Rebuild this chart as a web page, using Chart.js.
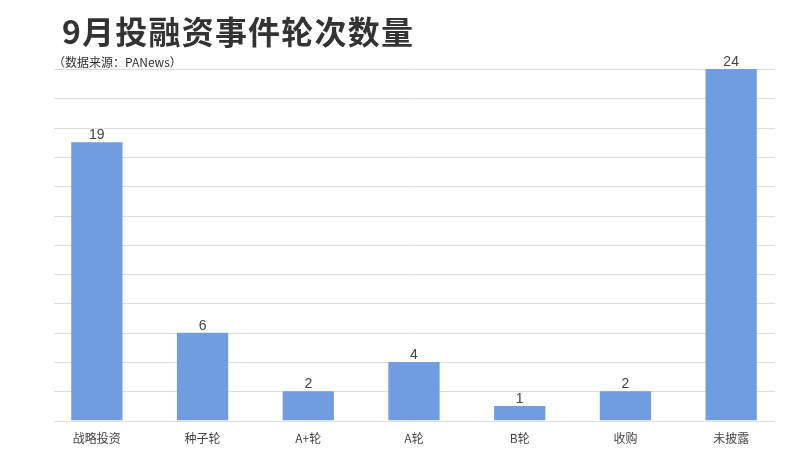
<!DOCTYPE html>
<html>
<head>
<meta charset="utf-8">
<script src="https://cdn.jsdelivr.net/npm/chart.js@4"></script>
<style>
  body { margin: 0; background: #fff; }
  #wrap { position: relative; width: 787px; height: 468px; }
  #title { position: absolute; left: 62px; top: 7px; font: bold 32px "Noto Sans CJK SC", sans-serif; color: #333; letter-spacing: 1.2px; }
  #sub { position: absolute; left: 53px; top: 53px; font: 12px "Noto Sans CJK SC", sans-serif; color: #333; }
</style>
</head>
<body>
<div id="wrap">
  <div id="title">9月投融资事件轮次数量</div>
  <div id="sub">（数据来源：PANews）</div>
  <canvas id="roundChart" width="787" height="468"></canvas>
</div>
<script>
const categories = ['战略投资', '种子轮', 'A+轮', 'A轮', 'B轮', '收购', '未披露'];
const counts = [19, 6, 2, 4, 1, 2, 24];

// horizontal grid, a bit shorter than the plot area like the original
const gridLines = {
    id: 'gridLines',
    beforeDatasetsDraw(chart) {
        const { ctx, chartArea, scales } = chart;
        ctx.save();
        ctx.strokeStyle = '#dedede';
        ctx.lineWidth = 1;
        scales.y.ticks.forEach(t => {
            const y = Math.round(scales.y.getPixelForValue(t.value)) + 0.5;
            ctx.beginPath();
            ctx.moveTo(chartArea.left + 10, y);
            ctx.lineTo(chartArea.right - 9, y);
            ctx.stroke();
        });
        ctx.restore();
    }
};

// value labels above bars
const barLabels = {
    id: 'barLabels',
    afterDatasetsDraw(chart) {
        const { ctx } = chart;
        ctx.save();
        ctx.font = '14px "Liberation Sans", Arial, sans-serif';
        ctx.fillStyle = '#444';
        ctx.textAlign = 'center';
        ctx.textBaseline = 'bottom';
        chart.getDatasetMeta(0).data.forEach((bar, i) => {
            ctx.fillText(counts[i], bar.x, bar.y);
        });
        ctx.restore();
    }
};

const ctx = document.getElementById('roundChart').getContext('2d');
const roundChart = new Chart(ctx, {
    type: 'bar',
    data: {
        labels: categories,
        datasets: [{
            data: counts,
            backgroundColor: 'rgb(112, 157, 226)',
            categoryPercentage: 1,
            barPercentage: 0.485
        }]
    },
    options: {
        responsive: false,
        animation: false,
        layout: { padding: { top: 69, left: 44, right: 3, bottom: 11 } },
        plugins: { legend: { display: false }, tooltip: { enabled: false } },
        scales: {
            x: {
                grid: { display: false, drawTicks: false },
                border: { display: false },
                ticks: {
                    color: '#444',
                    padding: 11,
                    font: { size: 12, family: '"Noto Sans CJK SC", sans-serif' }
                }
            },
            y: {
                display: false,
                min: 0,
                max: 24,
                ticks: { stepSize: 2 }
            }
        }
    },
    plugins: [gridLines, barLabels]
});
</script>
</body>
</html>
